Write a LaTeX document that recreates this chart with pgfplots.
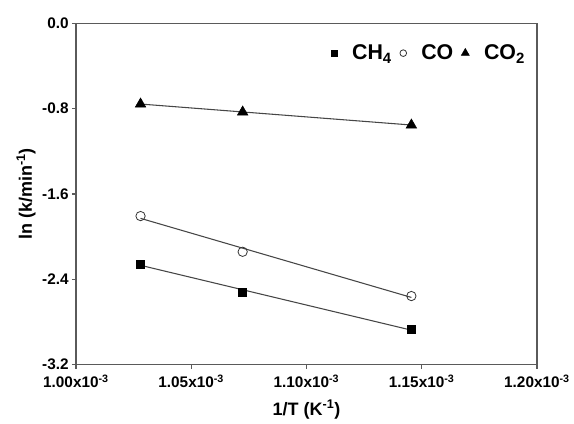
\documentclass[border=0pt]{standalone}
\usepackage{fontspec}
\setmainfont{Liberation Sans}
\usepackage{pgfplots}
\pgfplotsset{compat=1.18}
\definecolor{axgray}{RGB}{90,90,90}
\definecolor{lngray}{RGB}{70,70,70}
\begin{document}
\begin{tikzpicture}
\useasboundingbox (0pt,0pt) rectangle (430.5pt,318pt);
\begin{axis}[
  at={(57pt,44.55pt)}, anchor=south west,
  scale only axis, width=345.75pt, height=255.9pt,
  xmin=1.0, xmax=1.2, ymin=-3.2, ymax=0,
  xtick={1.0,1.05,1.1,1.15,1.2},
  xticklabels={1.00x10\textsuperscript{-3},1.05x10\textsuperscript{-3},1.10x10\textsuperscript{-3},1.15x10\textsuperscript{-3},1.20x10\textsuperscript{-3}},
  ytick={-3.2,-2.4,-1.6,-0.8,0},
  yticklabels={-3.2,-2.4,-1.6,-0.8,0.0},
  tick align=outside, xtick pos=bottom, ytick pos=left,
  major tick length=3pt,
  axis line style={draw=axgray, line width=1.2pt},
  tick style={draw=axgray, line width=0.8pt},
  ticklabel style={font=\fontsize{11.5}{12}\selectfont\bfseries},
  xticklabel style={yshift=-1pt},
  yticklabel style={xshift=1pt},
  xlabel={1/T (K\textsuperscript{-1})},
  ylabel={ln (k/min\textsuperscript{-1})},
  label style={font=\fontsize{13.5}{15}\selectfont\bfseries},
  xlabel style={yshift=-2pt},
  ylabel style={yshift=-2pt},
  legend columns=3,
  legend style={at={(0.989,0.954)}, anchor=north east, draw=none, fill=none,
    font=\fontsize{16}{18}\selectfont\bfseries,
    /tikz/every odd column/.append style={column sep=9pt},
    /tikz/every even column/.append style={column sep=4pt}},
  legend cell align=left,
  clip=false,
]
% fitted lines
\addplot[lngray, line width=0.8pt, forget plot] coordinates {(1.0280,-2.2688) (1.1455,-2.877)};
\addplot[lngray, line width=0.8pt, forget plot] coordinates {(1.0280,-1.8283) (1.1455,-2.570)};
\addplot[lngray, line width=0.8pt, forget plot] coordinates {(1.0280,-0.7563) (1.1455,-0.9532)};
% data
\addplot[only marks, mark=square*, mark size=3pt, mark options={fill=black, draw=black},
  legend image post style={mark size=2.3pt}]
  coordinates {(1.0280,-2.257) (1.0723,-2.517) (1.1455,-2.870)};
\addlegendentry{CH\textsubscript{4}}
\addplot[only marks, mark=o, mark size=3.5pt, mark options={draw=black!80, fill=white, line width=0.6pt},
  legend image post style={mark size=2.5pt}]
  coordinates {(1.0280,-1.807) (1.0723,-2.142) (1.1455,-2.557)};
\addlegendentry{CO}
\addplot[only marks, mark=triangle*, mark size=4.5pt, mark options={fill=black, draw=black},
  legend image post style={mark size=3.5pt}]
  coordinates {(1.0280,-0.756) (1.0723,-0.831) (1.1455,-0.953)};
\addlegendentry{CO\textsubscript{2}}
\end{axis}
\end{tikzpicture}
\end{document}
